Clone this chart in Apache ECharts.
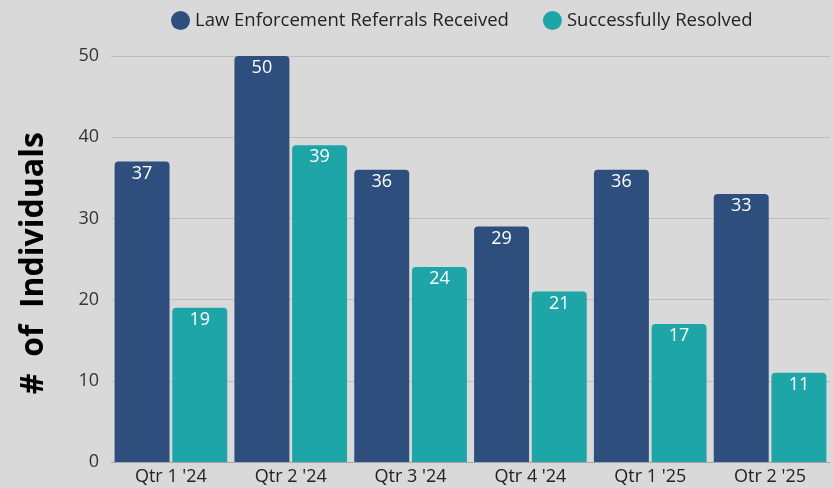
<!DOCTYPE html>
<html>
<head>
    <meta charset="UTF-8">
    <title>Referrals</title>
    <style>
        *{margin:0;padding:0;}
        body{background:#d9d9d9;}
        .container{width:833px;height:488px;}
    </style>
    <script src="https://cdn.jsdelivr.net/npm/echarts@6/dist/echarts.min.js"></script>
</head>
<body>
<div class="container"></div>
<script>
    const quarters = ["Qtr 1 '24", "Qtr 2 '24", "Qtr 3 '24", "Qtr 4 '24", "Qtr 1 '25", "Otr 2 '25"];
    const referrals = [37, 50, 36, 29, 36, 33];
    const resolved = [19, 39, 24, 21, 17, 11];

    let chart = echarts.init(document.querySelector('.container'));
    const font = 'Open Sans';
    let label = {
        show: true,
        position: 'insideTop',
        color: '#fff',
        fontSize: 18,
        fontFamily: font,
        distance: 3
    };
    chart.setOption({
        backgroundColor: '#d9d9d9',
        textStyle: {fontFamily: font},
        legend: {
            top: 6,
            left: 166,
            icon: 'circle',
            itemWidth: 19,
            itemHeight: 19,
            itemGap: 34,
            textStyle: {fontSize: 18.5, color: '#222', fontFamily: font},
            data: ['Law Enforcement Referrals Received', 'Successfully Resolved']
        },
        grid: {left: 111, right: 3, top: 56, bottom: 26},
        xAxis: {
            type: 'category',
            data: quarters,
            axisTick: {show: false},
            axisLine: {lineStyle: {color: '#a6a6a6'}},
            axisLabel: {color: '#222', fontSize: 18, margin: 6, fontFamily: font}
        },
        yAxis: {
            type: 'value',
            min: 0,
            max: 50,
            interval: 10,
            // trailing space nudges the title down a little, like the original
            name: '#  of  Individuals ',
            nameLocation: 'middle',
            nameGap: 61,
            nameTextStyle: {fontSize: 32, fontWeight: 'bold', color: '#000', fontFamily: font},
            axisLabel: {color: '#333', fontSize: 18, margin: 12, fontFamily: font},
            splitLine: {lineStyle: {color: '#bcbcbc'}}
        },
        series: [
            {
                name: 'Law Enforcement Referrals Received',
                type: 'bar',
                data: referrals,
                barGap: '5%',
                barCategoryGap: '6%',
                itemStyle: {color: '#2e4f7e', borderRadius: [4, 4, 0, 0]},
                label
            },
            {
                name: 'Successfully Resolved',
                type: 'bar',
                data: resolved,
                itemStyle: {color: '#1ea5a8', borderRadius: [4, 4, 0, 0]},
                label
            }
        ]
    });
</script>
</body>
</html>
